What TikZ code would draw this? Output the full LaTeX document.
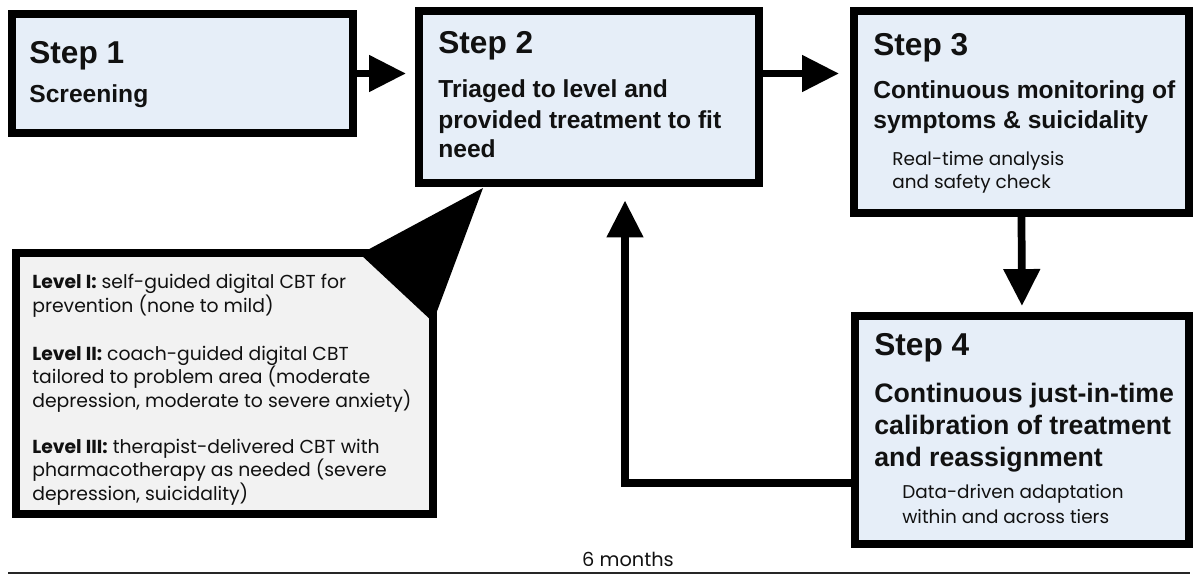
\documentclass[tikz,border=0pt]{standalone}
\usepackage{fontspec}
\setmainfont{Liberation Sans}
\newfontfamily\notefont{Poppins}
\usetikzlibrary{arrows.meta,calc,fit,positioning}
\definecolor{stepfill}{HTML}{E6EEF8}
\definecolor{levelfill}{HTML}{F2F2F2}
\definecolor{ink}{HTML}{111111}
\tikzset{stepbox/.style={draw=black,fill=stepfill,line width=4.5pt,inner sep=0pt},
levelbox/.style={draw=black,fill=levelfill,line width=4.5pt,inner sep=0pt},
flowarrow/.style={line width=4.4pt,-{Triangle[length=0.74cm,width=0.70cm]}},
steptitle/.style={font=\fontsize{18}{21}\selectfont\bfseries,anchor=base west,inner sep=0pt,text=ink},
stepbody/.style={font=\fontsize{14}{17}\selectfont\bfseries,anchor=base west,inner sep=0pt,align=left,text=ink},
stepnote/.style={font=\notefont\fontsize{10.5}{13}\selectfont,anchor=base west,inner sep=0pt,align=left,text=ink},
levelnote/.style={font=\notefont\fontsize{10.7}{13.4}\selectfont,anchor=base west,inner sep=0pt,align=left,text=ink}}

\begin{document}
\begin{tikzpicture}[x=0.02cm,y=-0.02cm]
\useasboundingbox (0,0) rectangle (1194,575);
% boxes
\node[stepbox,fit={(12,14) (353,133)}] (s1) {};
\node[stepbox,fit={(419,11) (759,183)}] (s2) {};
\node[stepbox,fit={(854,11) (1189,213)}] (s3) {};
\node[stepbox,fit={(855,316) (1189,544)}] (s4) {};
\node[levelbox,fit={(16,253) (433,514)}] (lv) {};
% callout pointer
\coordinate (tip) at (483,188);
\fill[black] (360,254) -- (tip) -- (433,322) -- cycle;
% texts
\node[steptitle] (s1t) at (29,63) {Step 1};
\node[stepbody] (s1b) at (29,102) {Screening};
\node[steptitle] (s2t) at (438,53) {Step 2};
\node[stepbody] (s2b1) at (438,97) {Triaged to level and};
\node[stepbody] (s2b2) at (438,128) {provided treatment to fit};
\node[stepbody] (s2b3) at (438,157) {need};
\node[steptitle] (s3t) at (873,55) {Step 3};
\node[stepbody] (s3b1) at (873,98) {Continuous monitoring of};
\node[stepbody] (s3b2) at (873,128) {symptoms \& suicidality};
\node[stepnote] (s3n1) at (892,165) {Real-time analysis};
\node[stepnote] (s3n2) at (892,188) {and safety check};
\node[steptitle] (s4t) at (874,355) {Step 4};
\node[stepbody,font=\fontsize{15.2}{18}\selectfont\bfseries] (s4b1) at (874,402) {Continuous just-in-time};
\node[stepbody,font=\fontsize{15.2}{18}\selectfont\bfseries] (s4b2) at (874,434) {calibration of treatment};
\node[stepbody,font=\fontsize{15.2}{18}\selectfont\bfseries] (s4b3) at (874,466) {and reassignment};
\node[stepnote] (s4n1) at (902,498) {Data-driven adaptation};
\node[stepnote] (s4n2) at (902,523) {within and across tiers};
\node[levelnote] (l1a) at (32,288) {\textbf{Level I:} self-guided digital CBT for};
\node[levelnote] (l1b) at (32,312) {prevention (none to mild)};
\node[levelnote] (l2a) at (32,360) {\textbf{Level II:} coach-guided digital CBT};
\node[levelnote] (l2b) at (32,383) {tailored to problem area (moderate};
\node[levelnote] (l2c) at (32,407) {depression, moderate to severe anxiety)};
\node[levelnote] (l3a) at (32,453) {\textbf{Level III:} therapist-delivered CBT with};
\node[levelnote] (l3b) at (32,476) {pharmacotherapy as needed (severe};
\node[levelnote] (l3c) at (32,500) {depression, suicidality)};
% arrows
\draw[flowarrow,shorten >=0.18cm] (s1.east) -- (s2.west |- s1.east);
\draw[flowarrow,shorten >=0.22cm] (s2.east |- s1.east) -- (s3.west |- s1.east);
\draw[flowarrow,shorten >=0.12cm] (s3.south) -- (s4.north);
\coordinate (bend) at (625,483);
\draw[flowarrow,shorten >=0.27cm] (s4.west |- bend) -- (bend) -- (bend |- s2.south);
% time axis
\node[font=\notefont\fontsize{11}{13}\selectfont,anchor=base,inner sep=0pt,text=ink] (span) at (628,566) {6 months};
\coordinate (axl) at (8,573);
\coordinate (axr) at (1190,573);
\draw[line width=1.2pt,black!85] (axl) -- (axr);
\end{tikzpicture}
\end{document}
